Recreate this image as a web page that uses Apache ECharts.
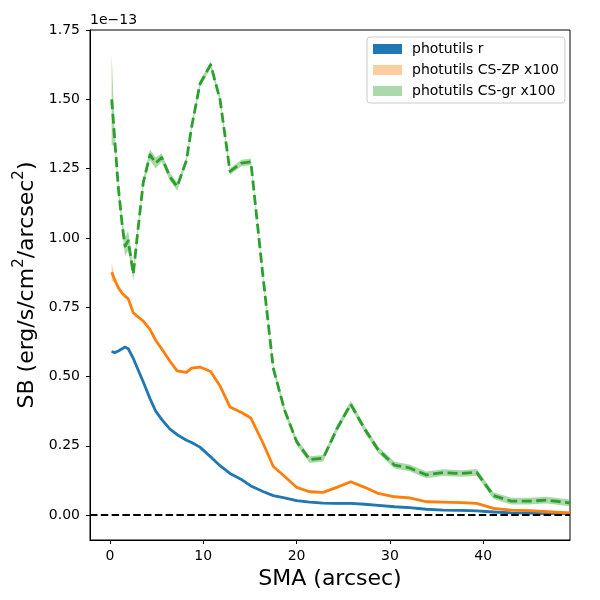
<!DOCTYPE html>
<head>
    <meta charset="utf-8">
    <title>SB profile</title>
    <style>html,body{margin:0;padding:0;background:#fff;}</style>
</head>
<body>
    <div id="main" style="width:600px;height:600px"></div>
    <script src="https://cdn.jsdelivr.net/npm/echarts@6/dist/echarts.min.js"></script>
    <script type="text/javascript">

    // semi-major axis (arcsec)
    var sma = [0.18, 0.5, 0.9, 1.3, 1.61, 1.96, 2.5, 3.0, 3.57, 4.29,
               4.9, 5.54, 6.43, 7.2, 8.2, 8.75, 9.64, 10.79, 11.79, 12.86,
               14.1, 15.1, 16.4, 17.5, 18.7, 20.0, 21.4, 22.85, 24.3, 25.8,
               27.3, 28.75, 30.5, 32.1, 33.9, 35.7, 37.7, 39.3, 41.1, 43.0,
               44.9, 46.8, 49.3];

    // photutils r  (x 1e-13)
    var sbR = [0.590, 0.586, 0.592, 0.600, 0.606, 0.600, 0.565, 0.525, 0.480, 0.420,
               0.375, 0.345, 0.310, 0.290, 0.270, 0.262, 0.245, 0.210, 0.178, 0.150,
               0.128, 0.105, 0.085, 0.070, 0.062, 0.052, 0.047, 0.043, 0.042, 0.042,
               0.039, 0.035, 0.030, 0.027, 0.021, 0.018, 0.017, 0.015, 0.011, 0.008,
               0.007, 0.006, 0.005];
    var errR = [0.003, 0.003, 0.003, 0.003, 0.003, 0.003, 0.003, 0.003, 0.003, 0.003,
                0.003, 0.003, 0.003, 0.003, 0.003, 0.003, 0.003, 0.003, 0.003, 0.003,
                0.003, 0.003, 0.003, 0.003, 0.003, 0.003, 0.003, 0.003, 0.003, 0.003,
                0.003, 0.003, 0.003, 0.003, 0.003, 0.003, 0.003, 0.003, 0.003, 0.003,
                0.003, 0.003, 0.003];

    // photutils CS-ZP x100
    var sbZP = [0.876, 0.850, 0.820, 0.800, 0.790, 0.780, 0.730, 0.715, 0.700, 0.670,
                0.630, 0.600, 0.555, 0.520, 0.515, 0.530, 0.534, 0.518, 0.466, 0.390,
                0.370, 0.350, 0.260, 0.175, 0.140, 0.100, 0.084, 0.082, 0.100, 0.120,
                0.100, 0.078, 0.066, 0.062, 0.048, 0.047, 0.045, 0.042, 0.024, 0.018,
                0.016, 0.012, 0.008];
    var errZP = [0.032, 0.012, 0.008, 0.005, 0.005, 0.005, 0.004, 0.004, 0.004, 0.004,
                 0.004, 0.004, 0.004, 0.004, 0.004, 0.004, 0.004, 0.004, 0.004, 0.004,
                 0.004, 0.004, 0.004, 0.004, 0.004, 0.004, 0.004, 0.004, 0.004, 0.004,
                 0.004, 0.004, 0.004, 0.004, 0.004, 0.004, 0.004, 0.004, 0.004, 0.004,
                 0.004, 0.004, 0.004];

    // photutils CS-gr x100
    var sbGR = [1.500, 1.360, 1.180, 1.050, 0.970, 0.990, 0.870, 1.030, 1.200, 1.300,
                1.270, 1.290, 1.220, 1.185, 1.280, 1.400, 1.555, 1.625, 1.500, 1.240,
                1.270, 1.274, 0.860, 0.530, 0.380, 0.265, 0.200, 0.205, 0.310, 0.400,
                0.310, 0.235, 0.180, 0.170, 0.145, 0.153, 0.150, 0.154, 0.070, 0.050,
                0.050, 0.054, 0.044];
    var errGR = [0.165, 0.030, 0.020, 0.020, 0.035, 0.035, 0.025, 0.015, 0.015, 0.020,
                 0.020, 0.015, 0.015, 0.015, 0.012, 0.012, 0.012, 0.012, 0.012, 0.012,
                 0.012, 0.012, 0.012, 0.012, 0.012, 0.012, 0.012, 0.012, 0.012, 0.012,
                 0.012, 0.012, 0.012, 0.012, 0.012, 0.012, 0.012, 0.012, 0.012, 0.012,
                 0.012, 0.012, 0.012];

    var xTicks = [0, 10, 20, 30, 40];
    var yTicks = [0, 0.25, 0.5, 0.75, 1.0, 1.25, 1.5, 1.75];

    var FONT = 'DejaVu Sans';

    function pairs(xs, ys) {
        return xs.map(function (x, i) { return [x, ys[i]]; });
    }

    // fill_between like band, drawn as one polygon through the axes
    function band(name, color, ys, err) {
        return {
            type: 'custom',
            name: name,
            clip: true,
            z: 1,
            silent: true,
            itemStyle: {color: color},
            data: pairs(sma, ys),
            renderItem: function (params, api) {
                if (params.dataIndex !== 0) return null;
                var pts = [];
                for (var i = 0; i < sma.length; i++) pts.push(api.coord([sma[i], ys[i] + err[i]]));
                for (var j = sma.length - 1; j >= 0; j--) pts.push(api.coord([sma[j], ys[j] - err[j]]));
                return {type: 'polygon', shape: {points: pts}, style: {fill: color, stroke: null}};
            }
        };
    }

    function line(color, ys) {
        return {
            type: 'line',
            data: pairs(sma, ys),
            showSymbol: false,
            symbol: 'none',
            z: 3,
            silent: true,
            lineStyle: {color: color, width: 2.8, type: 'solid', join: 'round', cap: 'butt'}
        };
    }

    var myChart = echarts.init(document.getElementById('main'));

    var option = {
        animation: false,
        backgroundColor: '#fff',
        title: {
            text: '1e\u221213',
            left: 90, top: 13, padding: 0,
            textStyle: {fontFamily: FONT, fontSize: 14, fontWeight: 'normal', color: '#000'}
        },
        grid: {
            left: 90, right: 30, top: 30, bottom: 60,
            show: true, borderColor: '#000', borderWidth: 1, backgroundColor: 'transparent'
        },
        legend: {
            left: 367, top: 37,
            orient: 'vertical',
            padding: [5, 6, 5, 6],
            itemWidth: 29, itemHeight: 10, itemGap: 7,
            backgroundColor: '#fff',
            borderColor: '#cccccc', borderWidth: 1, borderRadius: 3,
            icon: 'rect',
            textStyle: {fontFamily: FONT, fontSize: 14, color: '#000', lineHeight: 14, padding: [0, 0, 0, 5]},
            data: ['photutils r', 'photutils CS-ZP x100', 'photutils CS-gr x100']
        },
        xAxis: {
            type: 'value',
            min: -2.14, max: 49.3,
            name: 'SMA (arcsec)',
            nameLocation: 'middle', nameGap: 27,
            nameTextStyle: {fontFamily: FONT, fontSize: 22, color: '#000'},
            splitLine: {show: false},
            axisLine: {onZero: false, lineStyle: {color: '#000', width: 1}},
            axisTick: {customValues: xTicks, length: 4, lineStyle: {color: '#000'}},
            axisLabel: {customValues: xTicks, margin: 9, fontFamily: FONT, fontSize: 14, color: '#000'}
        },
        yAxis: {
            type: 'value',
            min: -0.09, max: 1.75,
            name: '{n|SB (erg/s/cm}{s|2}{n|/arcsec}{s|2}{n|)}',
            nameLocation: 'middle', nameGap: 50,
            nameTextStyle: {
                fontFamily: FONT, fontSize: 22, color: '#000',
                rich: {
                    n: {fontFamily: FONT, fontSize: 22, color: '#000', lineHeight: 26, verticalAlign: 'bottom'},
                    s: {fontFamily: FONT, fontSize: 15, color: '#000', lineHeight: 26, verticalAlign: 'top'}
                }
            },
            splitLine: {show: false},
            axisLine: {onZero: false, lineStyle: {color: '#000', width: 1}},
            axisTick: {customValues: yTicks, length: 4, lineStyle: {color: '#000'}},
            axisLabel: {
                customValues: yTicks, margin: 10, fontFamily: FONT, fontSize: 14, color: '#000',
                formatter: function (v) { return v.toFixed(2); }
            }
        },
        series: [
            band('photutils r', '#1f77b4', sbR, errR),
            line('#1f77b4', sbR),
            band('photutils CS-ZP x100', 'rgba(255,127,14,0.4)', sbZP, errZP),
            line('#ff7f0e', sbZP),
            band('photutils CS-gr x100', 'rgba(44,160,44,0.4)', sbGR, errGR),
            {
                type: 'line',
                data: pairs(sma, sbGR),
                showSymbol: false,
                symbol: 'none',
                z: 4,
                silent: true,
                lineStyle: {color: '#2ca02c', width: 2.8, type: [10, 4.5], join: 'round'},
                markLine: {
                    silent: true,
                    symbol: 'none',
                    label: {show: false},
                    lineStyle: {color: '#000', width: 2, type: [7.5, 3.3]},
                    data: [{yAxis: 0}]
                }
            }
        ]
    };

    myChart.setOption(option);
    </script>
</body>
